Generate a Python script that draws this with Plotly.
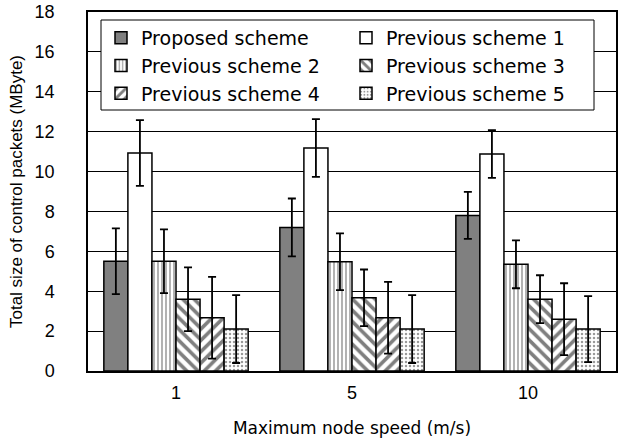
import plotly.graph_objects as go

speeds = ["1", "5", "10"]
series_names = ["Proposed scheme", "Previous scheme 1", "Previous scheme 2",
                "Previous scheme 3", "Previous scheme 4", "Previous scheme 5"]
proposed = [5.5, 7.2, 7.8]
proposed_err = [1.65, 1.45, 1.18]
prev1 = [10.93, 11.18, 10.88]
prev1_err = [1.65, 1.45, 1.2]
prev2 = [5.5, 5.48, 5.35]
prev2_err = [1.6, 1.42, 1.2]
prev3 = [3.6, 3.67, 3.6]
prev3_err = [1.6, 1.42, 1.2]
prev4 = [2.67, 2.67, 2.6]
prev4_err = [2.05, 1.8, 1.8]
prev5 = [2.1, 2.1, 2.1]
prev5_err = [1.7, 1.7, 1.65]
y_ticks = [0, 2, 4, 6, 8, 10, 12, 14, 16, 18]

values = [proposed, prev1, prev2, prev3, prev4, prev5]
errors = [proposed_err, prev1_err, prev2_err, prev3_err, prev4_err, prev5_err]
styles = [
    dict(color="#808080", pattern=dict(shape="")),
    dict(color="white", pattern=dict(shape="")),
    dict(color="white", pattern=dict(shape="|", fgcolor="black", bgcolor="white", size=4, solidity=0.3, fillmode="overlay")),
    dict(color="white", pattern=dict(shape="\\", fgcolor="black", bgcolor="white", size=8, solidity=0.45, fillmode="overlay")),
    dict(color="white", pattern=dict(shape="/", fgcolor="black", bgcolor="white", size=8, solidity=0.45, fillmode="overlay")),
    dict(color="white", pattern=dict(shape=".", fgcolor="#333333", bgcolor="white", size=4, solidity=0.3, fillmode="overlay")),
]

fig = go.Figure()
for name, v, e, st in zip(series_names, values, errors, styles):
    fig.add_trace(go.Bar(
        x=speeds, y=v, name=name,
        marker=dict(color=st["color"], pattern=st["pattern"], line=dict(color="black", width=1.5)),
        error_y=dict(type="data", array=e, visible=True, color="black", thickness=1.8, width=4),
    ))

L, R, T, B = 88, 7, 12, 68
W, H = 623, 439
pw, ph = W - L - R, H - T - B

def px_x(x):
    return (x - L) / pw

def px_y(y):
    return (H - B - y) / ph

fig.add_shape(type="rect", xref="paper", yref="paper",
              x0=px_x(101), x1=px_x(594), y0=px_y(110), y1=px_y(20),
              fillcolor="white", line=dict(color="black", width=1), layer="above")

fig.update_layout(
    width=W, height=H,
    margin=dict(l=L, r=R, t=T, b=B),
    paper_bgcolor="white", plot_bgcolor="white",
    barmode="group", bargap=0.18, bargroupgap=0,
    font=dict(family="Liberation Sans", color="black", size=16),
    showlegend=True,
    legend=dict(orientation="h", x=px_x(101), y=px_y(19), xanchor="left", yanchor="top",
                bgcolor="rgba(0,0,0,0)", borderwidth=0, entrywidth=200, entrywidthmode="pixels",
                font=dict(family="DejaVu Sans", size=19), traceorder="normal"),
    xaxis=dict(showline=True, linecolor="black", linewidth=1.5, mirror=True, automargin=False,
               ticks="", tickfont=dict(size=18, family="Liberation Sans"), ticklabelstandoff=5,
               title=dict(text="Maximum node speed (m/s)", font=dict(size=17, family="DejaVu Sans"), standoff=20)),
    yaxis=dict(range=[0, 18], tickvals=y_ticks, showline=True, linecolor="black", linewidth=1.5, mirror=True,
               automargin=False,
               showgrid=True, gridcolor="black", gridwidth=1, ticks="", tickfont=dict(size=18, family="Liberation Sans"),
               ticklabelstandoff=28, zeroline=False,
               title=dict(text="Total size of control packets (MByte)", font=dict(size=17, family="Liberation Sans"), standoff=8)),
)

fig.write_html("out.html")
